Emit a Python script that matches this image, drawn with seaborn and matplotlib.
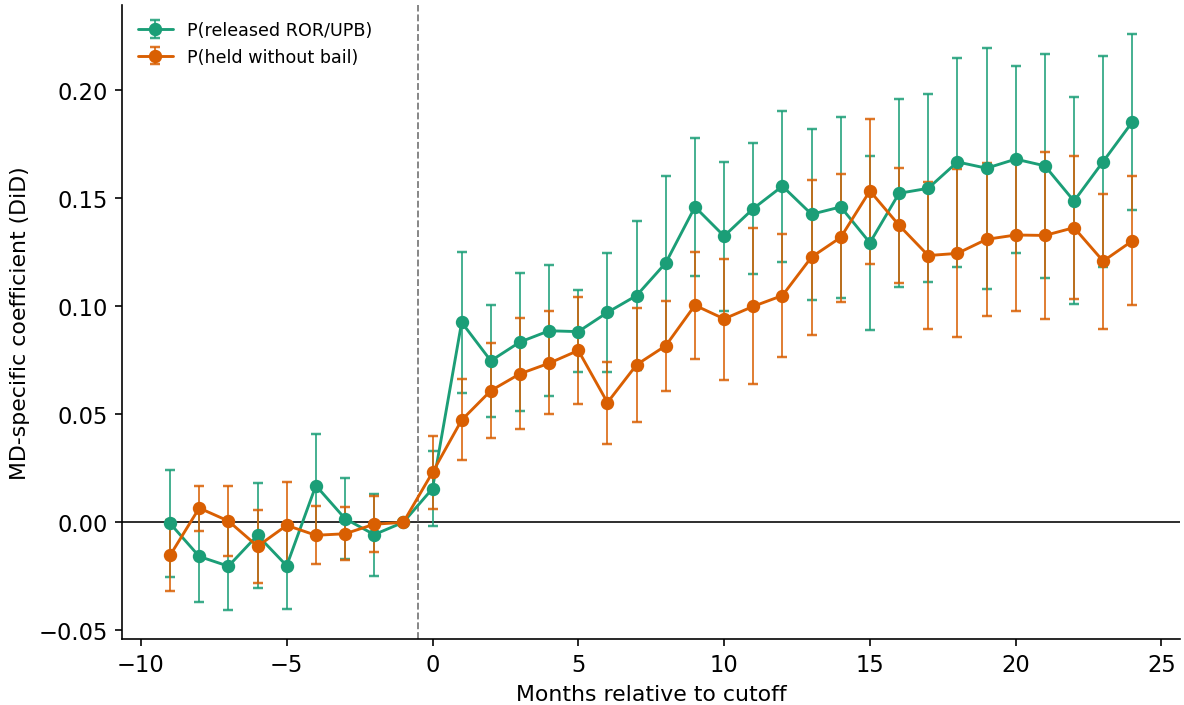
import matplotlib

matplotlib.use("Agg")

import matplotlib.pyplot as plt
import numpy as np
import seaborn as sns

event_time = list(range(-9, 25))

release_est = [-0.0005, -0.0158, -0.0203, -0.0060, -0.0201, 0.0170, 0.0017, -0.0057, 0.0, 0.0156,
               0.0925, 0.0747, 0.0834, 0.0886, 0.0882, 0.0971, 0.1049, 0.1200, 0.1459, 0.1324,
               0.1451, 0.1555, 0.1425, 0.1459, 0.1293, 0.1522, 0.1545, 0.1667, 0.1638, 0.1680,
               0.1649, 0.1486, 0.1669, 0.1852]
release_lo = [-0.0254, -0.0367, -0.0405, -0.0305, -0.0400, -0.0068, -0.0172, -0.0249, 0.0, -0.0015,
              0.0600, 0.0489, 0.0517, 0.0586, 0.0693, 0.0693, 0.0704, 0.0800, 0.1138, 0.0978,
              0.1148, 0.1205, 0.1027, 0.1036, 0.0891, 0.1087, 0.1111, 0.1183, 0.1081, 0.1245,
              0.1131, 0.1010, 0.1183, 0.1445]
release_hi = [0.0241, 0.0052, -0.0001, 0.0180, -0.0002, 0.0408, 0.0206, 0.0133, 0.0, 0.0331,
              0.1251, 0.1007, 0.1151, 0.1189, 0.1073, 0.1248, 0.1392, 0.1600, 0.1776, 0.1669,
              0.1754, 0.1903, 0.1820, 0.1875, 0.1695, 0.1958, 0.1981, 0.2150, 0.2195, 0.2113,
              0.2166, 0.1966, 0.2155, 0.2258]

held_est = [-0.0153, 0.0066, 0.0006, -0.0111, -0.0014, -0.0060, -0.0053, -0.0009, 0.0, 0.0231,
            0.0473, 0.0609, 0.0687, 0.0736, 0.0795, 0.0554, 0.0729, 0.0817, 0.1004, 0.0941,
            0.0999, 0.1049, 0.1227, 0.1318, 0.1533, 0.1374, 0.1234, 0.1244, 0.1309, 0.1329,
            0.1327, 0.1363, 0.1208, 0.1302]
held_lo = [-0.0316, -0.0040, -0.0156, -0.0280, -0.0215, -0.0195, -0.0176, -0.0138, 0.0, 0.0063,
           0.0288, 0.0388, 0.0430, 0.0500, 0.0548, 0.0362, 0.0463, 0.0609, 0.0755, 0.0659,
           0.0639, 0.0764, 0.0868, 0.1021, 0.1197, 0.1108, 0.0894, 0.0855, 0.0953, 0.0978,
           0.0942, 0.1035, 0.0896, 0.1004]
held_hi = [0.0010, 0.0169, 0.0169, 0.0056, 0.0187, 0.0075, 0.0071, 0.0122, 0.0, 0.0400,
           0.0662, 0.0829, 0.0945, 0.0976, 0.1044, 0.0741, 0.0993, 0.1022, 0.1251, 0.1219,
           0.1360, 0.1333, 0.1584, 0.1613, 0.1865, 0.1641, 0.1573, 0.1633, 0.1664, 0.1680,
           0.1712, 0.1694, 0.1519, 0.1601]

series = [
    ("P(released ROR/UPB)", release_est, release_lo, release_hi),
    ("P(held without bail)", held_est, held_lo, held_hi),
]

sns.set_style("ticks", rc={
    "text.color": "black",
    "axes.labelcolor": "black",
    "axes.edgecolor": "black",
    "xtick.color": "black",
    "ytick.color": "black",
    "xtick.major.size": 3.5,
    "ytick.major.size": 3.5,
})
plt.rcParams["font.family"] = ["DejaVu Sans"]
plt.rcParams["xtick.labelsize"] = 11
plt.rcParams["ytick.labelsize"] = 11
plt.rcParams["axes.labelsize"] = 10.7
palette = sns.color_palette("Dark2", 2)

fig, ax = plt.subplots(figsize=(8, 4.77), dpi=148)

for (label, est, lo, hi), color in zip(series, palette):
    est = np.asarray(est)
    yerr = np.vstack([est - np.asarray(lo), np.asarray(hi) - est])
    line, caps, bars = ax.errorbar(
        event_time, est, yerr=yerr, fmt="-o", color=color, label=label,
        markersize=5.5, linewidth=1.4, elinewidth=0.9, capsize=2.5, capthick=1.2,
    )
    for c in caps:
        c.set_alpha(0.85)
    for b in bars:
        b.set_alpha(0.85)

ax.axhline(0, color="#222222", linewidth=0.9, zorder=0)
ax.axvline(-0.5, color="grey", linewidth=0.9, linestyle="--", zorder=0)

ax.set_xlabel("Months relative to cutoff")
ax.set_ylabel("MD-specific coefficient (DiD)")
ax.legend(loc="upper left", frameon=False, fontsize=8.5)
sns.despine(ax=ax)

fig.subplots_adjust(left=0.103, right=0.997, bottom=0.094, top=0.991)
fig.savefig("out.png")
plt.close(fig)
